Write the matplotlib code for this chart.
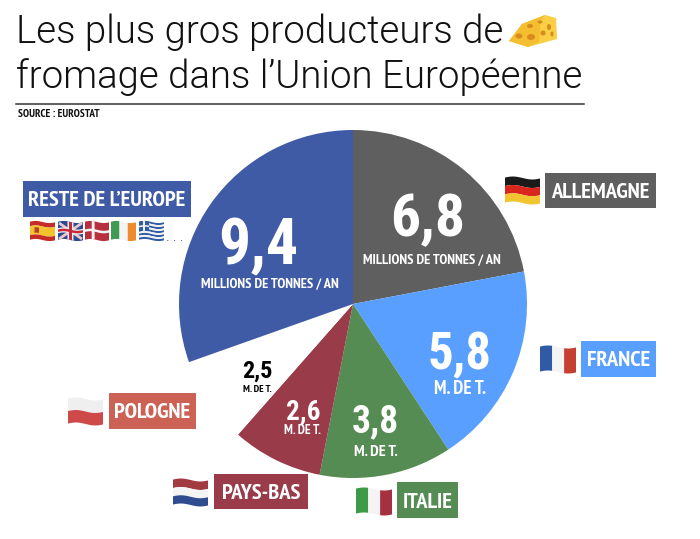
#!/usr/bin/env python3
import numpy as np
import matplotlib
matplotlib.use("Agg")
import matplotlib.pyplot as plt
from matplotlib.patches import Polygon, Rectangle, Ellipse

# data
countries = ["ALLEMAGNE", "FRANCE", "ITALIE", "PAYS-BAS", "POLOGNE", "RESTE DE L\u2019EUROPE"]
values = [6.8, 5.8, 3.8, 2.6, 2.5, 9.4]
value_labels = ["6,8", "5,8", "3,8", "2,6", "2,5", "9,4"]
units = ["MILLIONS DE TONNES / AN", "M. DE T.", "M. DE T.", "M. DE T.", "M. DE T.", "MILLIONS DE TONNES / AN"]
colors = ["#5F5F5F", "#589FFF", "#558C53", "#9A3B4A", "#FFFFFF", "#3F5BA6"]
box_colors = ["#5F5F5F", "#589FFF", "#558C53", "#9A3B4A", "#CC6155", "#3F5BA6"]

W, H = 700, 539
NARROW = ["PT Sans Narrow", "Roboto Condensed", "Liberation Sans"]
NUMS = ["Roboto Condensed", "Liberation Sans"]


def Y(py):
    return H - py


def box(ax, x0, y0, x1, y1, color, label, size=16.2):
    ax.add_patch(Rectangle((x0, Y(y1)), x1 - x0, y1 - y0, fc=color, ec="none", zorder=3))
    ax.text((x0 + x1) / 2, Y((y0 + y1) / 2), label, color="white", ha="center", va="center_baseline",
            fontsize=size, fontfamily=NARROW, fontweight="bold", zorder=4)


def flag(ax, x0, y0, x1, y1, parts):
    # parts are rects in unit coords (u0, v0, u1, v1, color), v going down
    w, h = x1 - x0, y1 - y0
    amp = h * 0.06

    def mp(u, v):
        px = x0 + u * w
        py = y0 + v * h - amp * np.sin(u * 2 * np.pi * 0.9 + 0.3)
        return np.column_stack([px, Y(py)])

    for u0, v0, u1, v1, c in parts:
        us = np.linspace(u0, u1, 14)
        top = mp(us, np.full_like(us, v0))
        bot = mp(us[::-1], np.full_like(us, v1))
        ax.add_patch(Polygon(np.vstack([top, bot]), fc=c, ec="none", zorder=3))


fig = plt.figure(figsize=(W / 100, H / 100), dpi=100)
ax = fig.add_axes([0, 0, 1, 1])

ax.pie(values, colors=colors, startangle=90, counterclock=False, radius=174,
       center=(353, Y(304)), frame=True,
       wedgeprops={"linewidth": 0})
ax.set_xlim(0, W)
ax.set_ylim(0, H)
ax.set_aspect("equal")
ax.axis("off")

# title
title_font = ["Roboto", "Liberation Sans"]
ax.text(16, Y(43), "Les plus gros producteurs de", fontsize=27.6, fontfamily=title_font, fontweight=300,
        color="#111111", va="baseline")
ax.text(16, Y(88), "fromage dans l\u2019Union Europ\u00e9enne", fontsize=27.6, fontfamily=title_font, fontweight=300,
        color="#111111", va="baseline")
ax.plot([16, 584], [Y(104), Y(104)], color="#333333", lw=1.1)
ax.text(18, Y(117), "SOURCE : EUROSTAT", fontsize=8, fontfamily=NARROW, fontweight="bold", color="#111111", va="baseline")

# cheese
ax.add_patch(Polygon([(509, Y(41)), (522, Y(24)), (545, Y(15)), (556, Y(18)), (557, Y(39)), (528, Y(47))],
                     fc="#F8CF45", ec="none", zorder=3))
ax.add_patch(Polygon([(509, Y(41)), (522, Y(24)), (545, Y(15)), (541, Y(20)), (539, Y(42)), (528, Y(47))],
                     fc="#F5BE30", ec="none", zorder=3))
for cx, cy, rx, ry in [(519, 36, 7, 4), (531, 37, 8, 5), (530, 26, 6, 3), (540, 22, 5, 2),
                       (549, 27, 4, 5), (543, 33, 5, 4), (552, 34, 3, 4)]:
    ax.add_patch(Ellipse((cx, Y(cy)), rx, ry + 1, fc="#D98A1E", ec="none", zorder=4))

# value labels in the slices
big = [(428, 214, 43), (460, 350, 36.5), (375, 418, 27), (303, 409, 19.5), (257, 369, 17.5), (258, 240, 46)]
small = [(432, 258, 10.4), (460, 387, 13.5), (376, 450, 11.5), (302, 429, 9.5), (257, 388, 7.5), (270, 282, 10.4)]
for i in range(len(values)):
    c = "black" if colors[i] == "#FFFFFF" else "white"
    x, y, fs = big[i]
    ax.text(x, Y(y), value_labels[i], color=c, ha="center", va="center_baseline", fontsize=fs,
            fontfamily=NUMS, fontweight="bold", zorder=4)
    x, y, fs = small[i]
    ax.text(x, Y(y), units[i], color=c, ha="center", va="center_baseline", fontsize=fs,
            fontfamily=NARROW, fontweight="bold", zorder=4)

# label boxes
rects = [(545, 173, 656, 208), (581, 341, 656, 377), (397, 482, 458, 518),
         (214, 474, 308, 509), (109, 393, 196, 429), (23, 181, 191, 217)]
for i, r in enumerate(rects):
    box(ax, *r, box_colors[i], countries[i])

# flags
flag(ax, 505, 178, 540, 203, [(0, 0, 1, .34, "#1A1A1A"), (0, .34, 1, .67, "#D8261C"), (0, .67, 1, 1, "#F2C530")])
flag(ax, 540, 347, 576, 372, [(0, 0, .34, 1, "#2F5AA5"), (.34, 0, .67, 1, "#F4F4F4"), (.67, 0, 1, 1, "#C63F33")])
flag(ax, 356, 489, 392, 514, [(0, 0, .34, 1, "#3D9A46"), (.34, 0, .67, 1, "#F4F4F4"), (.67, 0, 1, 1, "#A5303F")])
flag(ax, 68, 399, 103, 424, [(0, 0, 1, .5, "#EFEFEF"), (0, .5, 1, 1, "#CE4A4A")])
flag(ax, 173, 480, 208, 505, [(0, 0, 1, .34, "#A23A42"), (0, .34, 1, .67, "#F4F4F4"), (0, .67, 1, 1, "#2F4C8F")])

# small flags under "reste de l'europe"
flag(ax, 30, 222, 55, 240, [(0, 0, 1, .25, "#C62B27"), (0, .25, 1, .75, "#F3C32E"), (0, .75, 1, 1, "#C62B27"),
                            (.18, .35, .36, .65, "#B5432A")])
flag(ax, 58, 222, 83, 240, [(0, 0, 1, 1, "#2C4A8E")])
ax.plot([59, 82], [Y(223), Y(239)], color="#E8C8CC", lw=2, zorder=3, solid_capstyle="butt")
ax.plot([59, 82], [Y(239), Y(223)], color="#E8C8CC", lw=2, zorder=3, solid_capstyle="butt")
flag(ax, 58, 222, 83, 240, [(.38, 0, .62, 1, "#F0F0F0"), (0, .36, 1, .64, "#F0F0F0"),
                            (.44, 0, .56, 1, "#C8283A"), (0, .43, 1, .57, "#C8283A")])
flag(ax, 85, 222, 109, 240, [(0, 0, 1, 1, "#B7303F"), (.28, 0, .4, 1, "#F2F2F2"), (0, .43, 1, .57, "#F2F2F2")])
flag(ax, 111, 222, 136, 240, [(0, 0, .34, 1, "#3F9A52"), (.34, 0, .67, 1, "#F4F4F4"), (.67, 0, 1, 1, "#EE8B2E")])
flag(ax, 139, 222, 164, 240, [(0, v / 9, 1, (v + 1) / 9, "#2F5AA5" if v % 2 == 0 else "#F2F2F2") for v in range(9)]
     + [(0, 0, .4, .55, "#2F5AA5"), (.16, 0, .24, .55, "#F2F2F2"), (0, .23, .4, .32, "#F2F2F2")])
ax.text(175, Y(241), ". . .", fontsize=9, color="#3F5BA6", ha="center", va="baseline", fontfamily="Liberation Sans")

fig.savefig("out.png", dpi=100)
